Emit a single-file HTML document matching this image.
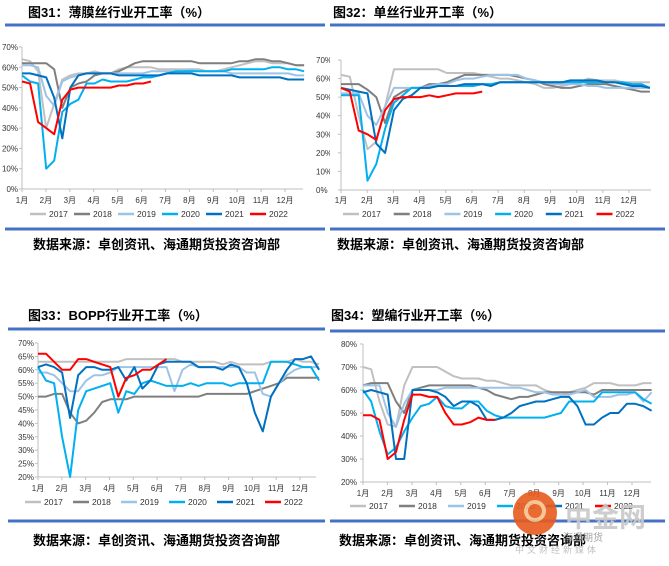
<!DOCTYPE html>
<html><head><meta charset="utf-8"><style>
body{margin:0;background:#fff;}
svg{display:block;font-family:"Liberation Sans","Noto Sans CJK SC",sans-serif;}
.t{font-weight:bold;font-size:13px;fill:#000;}
.ax{font-size:8px;fill:#333;}
.lg{font-size:8.5px;fill:#333;}
</style></head><body>
<svg id="c" width="669" height="566" viewBox="0 0 669 566" xmlns="http://www.w3.org/2000/svg">
<defs><clipPath id="cl2"><rect x="300" y="0" width="30" height="260"/></clipPath></defs>
</svg>
<script>
const years = ["2017","2018","2019","2020","2021","2022"];
const colors = ["#c0c0c0","#7f7f7f","#9dc3e6","#00b0f0","#0070c0","#ff0000"];
const months = ["1月","2月","3月","4月","5月","6月","7月","8月","9月","10月","11月","12月"];

const p1_2017=[64,63,58,30,42,54,56,57,57,58,57,57,59,60,60,60,60,59,59,59,59,59,59,58,58,59,60,61,62,63,63,62,62,62,61,61];
const p1_2018=[62,62,62,62,59,40,50,52,53,56,57,57,58,60,62,63,63,63,63,63,63,63,62,62,62,62,62,63,63,64,64,63,63,62,61,61];
const p1_2019=[61,61,60,46,41,53,55,56,57,57,57,57,57,57,57,57,58,58,58,58,58,59,58,58,58,58,57,57,57,57,57,57,57,57,56,56];
const p1_2020=[56,53,52,10,14,38,42,44,52,52,54,53,53,53,54,55,55,56,57,58,58,58,58,58,58,58,59,59,59,59,59,60,60,59,59,58];
const p1_2021=[57,57,56,55,45,25,50,56,57,57,57,57,56,56,56,56,56,56,57,57,57,57,56,56,56,56,56,55,55,55,55,55,55,54,54,54];
const p1_2022=[53,52,33,30,27,44,49,50,50,50,50,50,51,51,52,52,53];

const p2_2017=[62,61,40,22,26,45,65,65,65,65,65,65,63,63,63,63,62,61,60,60,59,58,57,55,55,56,57,58,60,59,59,59,58,58,58,58];
const p2_2018=[57,57,57,54,50,36,50,53,55,55,57,57,58,60,62,62,62,62,62,62,61,60,59,57,56,55,55,56,57,57,57,56,55,54,53,53];
const p2_2019=[52,52,52,40,35,45,55,55,55,55,56,57,57,59,60,60,61,62,62,62,62,60,59,58,57,57,57,57,56,56,55,55,55,55,55,55];
const p2_2020=[51,51,51,5,14,33,47,51,55,55,55,56,56,56,56,56,57,57,58,58,58,58,58,58,58,58,58,58,58,58,58,58,58,57,57,55];
const p2_2021=[55,54,53,52,25,20,43,49,51,55,55,56,56,56,57,57,57,56,58,58,58,58,58,58,58,58,59,59,59,59,58,58,57,56,56,55];
const p2_2022=[55,53,32,30,27,43,49,50,50,50,51,50,51,52,52,52,53];

const p3_2017=[63,63,63,63,63,63,63,63,63,63,63,64,64,64,64,64,64,64,63,63,63,63,63,62,63,62,62,62,62,63,63,63,64,63,63,62];
const p3_2018=[50,50,51,51,44,40,41,44,48,49,49,49,50,50,50,50,50,50,50,50,50,51,51,51,51,51,51,52,53,54,55,57,57,57,57,57];
const p3_2019=[59,59,58,55,52,52,56,58,58,59,61,61,61,61,61,61,61,52,60,62,61,61,61,61,61,61,59,59,51,50,55,58,60,61,61,61];
const p3_2020=[61,56,55,35,20,45,52,53,54,55,44,52,51,55,56,55,54,54,54,55,54,55,55,55,54,55,55,55,55,63,63,63,62,61,61,56];
const p3_2021=[61,62,61,59,42,58,61,61,60,60,61,56,61,53,56,62,63,63,63,63,61,61,61,60,62,61,55,44,37,50,55,60,64,64,65,60];
const p3_2022=[66,66,63,60,60,64,64,63,62,61,50,57,58,60,60,62,64];

const p4_2017=[70,69,55,45,44,62,70,70,70,70,68,66,65,65,65,64,64,63,62,62,62,62,60,59,58,59,60,61,63,63,63,62,62,62,63,63];
const p4_2018=[62,63,63,63,55,50,60,61,62,62,62,62,62,62,61,60,58,57,56,57,57,58,59,59,59,59,59,59,58,60,60,60,60,60,60,60];
const p4_2019=[62,62,62,50,44,54,60,60,60,60,61,61,61,61,61,61,61,61,61,61,60,59,59,58,58,58,59,60,57,57,57,58,58,59,55,59];
const p4_2020=[60,55,42,32,35,42,48,53,54,57,53,52,52,55,55,51,49,48,48,48,48,48,48,49,50,55,55,55,55,59,59,59,59,59,56,54];
const p4_2021=[59,60,59,58,30,30,60,60,60,59,57,53,55,55,53,47,47,48,50,53,54,55,55,56,57,57,53,45,45,48,50,50,54,54,53,51];
const p4_2022=[49,49,47,30,33,47,58,58,57,57,50,45,45,46,48,47,47];

const p1_ticks=[0,10,20,30,40,50,60,70];
const p2_ticks=[0,10,20,30,40,50,60,70];
const p3_ticks=[20,25,30,35,40,45,50,55,60,65,70];
const p4_ticks=[20,30,40,50,60,70,80];

const panels=[
 {id:"p1",title:"图31：薄膜丝行业开工率（%）",tx:28,ty:17,sepTop:[5,325,25],sepBot:[5,325,229],src:[33,249],
  x1:22,x12:285,xr:303,yTop:47,yBot:189,min:0,max:70,ticks:p1_ticks,ylx:18,mly:203,
  leg:{x:30,sp:44,y:214},series:[p1_2017,p1_2018,p1_2019,p1_2020,p1_2021,p1_2022]},
 {id:"p2",title:"图32：单丝行业开工率（%）",tx:333,ty:17,sepTop:[330,665,25],sepBot:[330,665,229],src:[337,249],
  x1:341,x12:629,xr:651,yTop:60,yBot:190,min:0,max:70,ticks:p2_ticks,ylx:330,mly:203,clipLabels:true,
  leg:{x:343,sp:50.7,y:214},series:[p2_2017,p2_2018,p2_2019,p2_2020,p2_2021,p2_2022]},
 {id:"p3",title:"图33：BOPP行业开工率（%）",tx:28,ty:320,sepTop:[8,325,329],sepBot:[8,325,521],src:[33,545],
  x1:38,x12:300,xr:316,yTop:343,yBot:477,min:20,max:70,ticks:p3_ticks,ylx:34,mly:491,
  leg:{x:25,sp:48,y:502},series:[p3_2017,p3_2018,p3_2019,p3_2020,p3_2021,p3_2022]},
 {id:"p4",title:"图34：塑编行业开工率（%）",tx:331,ty:320,sepTop:[330,665,331],sepBot:[330,665,521],src:[339,545],
  x1:363,x12:632,xr:651,yTop:344,yBot:482,min:20,max:80,ticks:p4_ticks,ylx:357,mly:496,
  leg:{x:350,sp:49,y:506},series:[p4_2017,p4_2018,p4_2019,p4_2020,p4_2021,p4_2022]}
];

const svg=document.getElementById('c');
const NS="http://www.w3.org/2000/svg";
function mk(tag,attrs,parent){const e=document.createElementNS(NS,tag);for(const k in attrs)e.setAttribute(k,attrs[k]);(parent||svg).appendChild(e);return e;}

panels.forEach(p=>{
  const g=mk('g',{});
  
  
  const step=(p.x12-p.x1)/11;
  const xs=m=>p.x1+(m-1)*step;
  const ys=v=>p.yBot-(v-p.min)/(p.max-p.min)*(p.yBot-p.yTop);
  const xi=i=>xs(1+i*(11.8/35));

  const t=mk('text',{x:p.tx,y:p.ty,class:'t'},g);t.textContent=p.title;
  
  
  const s1=mk('line',{x1:p.sepTop[0],x2:p.sepTop[1],y1:p.sepTop[2],y2:p.sepTop[2],stroke:'#4472c4','stroke-width':3},g);
  
  
  const s2=mk('line',{x1:p.sepBot[0],x2:p.sepBot[1],y1:p.sepBot[2],y2:p.sepBot[2],stroke:'#4472c4','stroke-width':3},g);
  
  
  const src=mk('text',{x:p.src[0],y:p.src[1],class:'t'},g);src.textContent="数据来源：卓创资讯、海通期货投资咨询部";
  
  

  // axes
  const ya=mk('line',{x1:p.x1,x2:p.x1,y1:p.yTop,y2:p.yBot,stroke:'#bfbfbf','stroke-width':1},g);
  
  
  const xa=mk('line',{x1:p.x1,x2:p.xr,y1:p.yBot,y2:p.yBot,stroke:'#bfbfbf','stroke-width':1},g);
  
  
  const lg=mk('g',p.clipLabels?{'clip-path':'url(#cl2)'}:{},g);
  p.ticks.forEach(v=>{
    mk('line',{x1:p.x1-3,x2:p.x1,y1:ys(v),y2:ys(v),stroke:'#bfbfbf'},g);
    const tl=mk('text',{x:p.clipLabels?p.ylx-14:p.ylx,y:ys(v)+3,class:'ax','text-anchor':p.clipLabels?'start':'end'},lg);
    tl.textContent=v+"%";
    
    
  });
  months.forEach((m,i)=>{
    const x=xs(i+1);
    mk('line',{x1:x,x2:x,y1:p.yBot,y2:p.yBot+3,stroke:'#bfbfbf'},g);
    const tl=mk('text',{x:x,y:p.mly,class:'ax','text-anchor':'middle'},g);
    tl.textContent=m;
    
    
  });
  // series
  p.series.forEach((arr,k)=>{
    const pts=arr.map((v,i)=>xi(i).toFixed(1)+","+ys(v).toFixed(1)).join(" ");
    const pl=mk('polyline',{points:pts,fill:'none',stroke:colors[k],'stroke-width':2,'stroke-linejoin':'round'},g);
    
    
  });
  // legend
  years.forEach((y,k)=>{
    const lx=p.leg.x+k*p.leg.sp;
    const le=mk('g',{},g);
    
    
    mk('line',{x1:lx,x2:lx+16,y1:p.leg.y,y2:p.leg.y,stroke:colors[k],'stroke-width':2.5},le);
    const tt=mk('text',{x:lx+19,y:p.leg.y+3,class:'lg'},le);tt.textContent=y;
  });
});

// watermark
const wm=mk('g',{opacity:0.9});


mk('circle',{cx:535,cy:513,r:22,fill:'#e85a1e'},wm);
mk('circle',{cx:535,cy:511,r:9,fill:'none',stroke:'#f6c28a','stroke-width':4},wm);
const w1=mk('text',{x:565,y:527,'font-size':27,'font-weight':'bold',fill:'#c8c8c8'},wm);w1.textContent="中金网";
const w2=mk('text',{x:563,y:541,'font-size':10,fill:'#9a9a9a'},wm);w2.textContent="海通期货";
const w3=mk('text',{x:515,y:553,'font-size':9,fill:'#bbb','letter-spacing':'3'},wm);w3.textContent="中文财经新媒体";
</script>
</body></html>
